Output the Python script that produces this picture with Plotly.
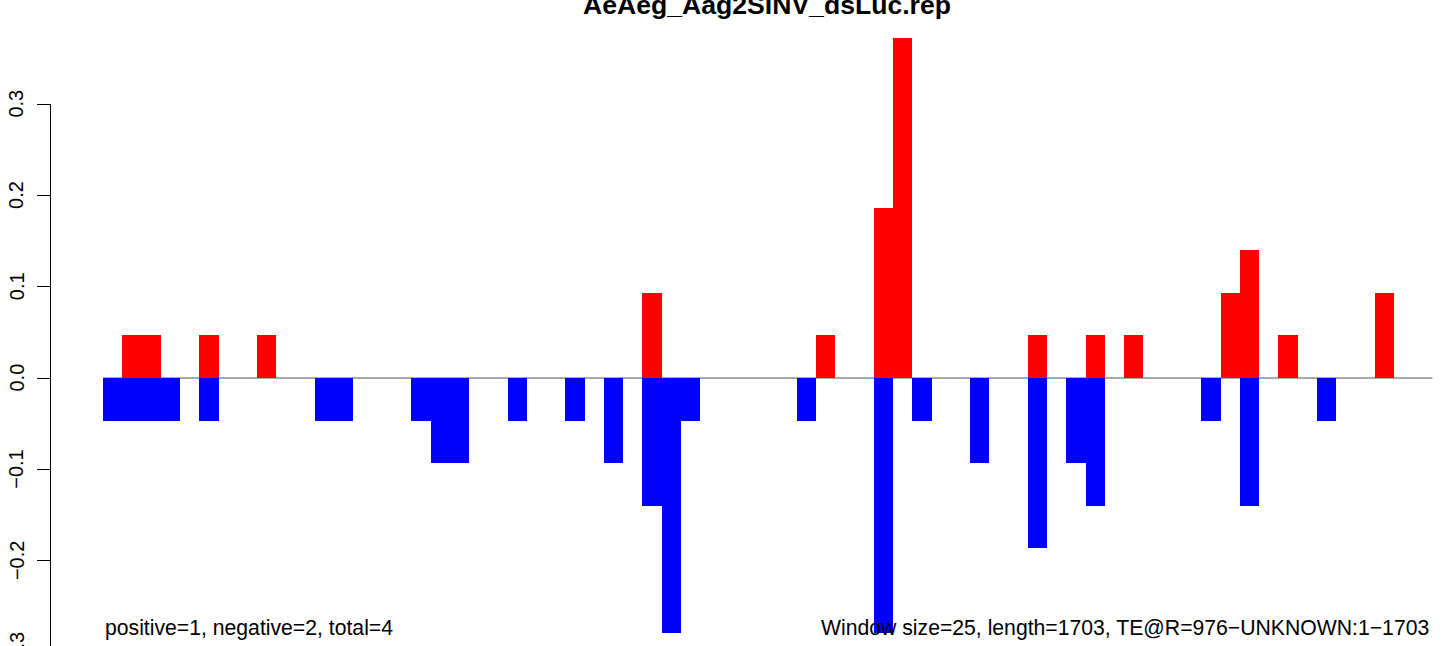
import plotly.graph_objects as go

# ---- data (window start positions in bp, values) ----
window_size = 25
seq_length = 1703

pos_starts = [25, 50, 125, 200, 700, 925, 1000, 1025, 1200, 1275, 1325, 1450, 1475, 1525, 1650]
pos_values = [0.0466, 0.0466, 0.0466, 0.0466, 0.0932, 0.0466, 0.1864, 0.3728, 0.0466, 0.0466,
              0.0466, 0.0932, 0.1398, 0.0466, 0.0932]

neg_starts = [0, 25, 50, 75, 125, 275, 300, 400, 425, 450, 525, 600, 650, 700, 725, 750,
              900, 1000, 1050, 1125, 1200, 1250, 1275, 1425, 1475, 1575]
neg_values = [-0.0466, -0.0466, -0.0466, -0.0466, -0.0466, -0.0466, -0.0466, -0.0466, -0.0932,
              -0.0932, -0.0466, -0.0466, -0.0932, -0.1398, -0.2796, -0.0466, -0.0466, -0.2796,
              -0.0466, -0.0932, -0.1864, -0.0932, -0.1398, -0.0466, -0.1398, -0.0466]

y_ticks = [-0.3, -0.2, -0.1, 0.0, 0.1, 0.2, 0.3]
y_tick_labels = ["\u22120.3", "\u22120.2", "\u22120.1", "0.0", "0.1", "0.2", "0.3"]

title_text = "AeAeg_Aag2SINV_dsLuc.rep"
left_note = "positive=1, negative=2, total=4"
right_note = "Window size=25, length=1703, TE@R=976\u2212UNKNOWN:1\u22121703"

W, H = 1444, 646
FONT = "Liberation Sans, Arial, Helvetica, sans-serif"

bp_per_px = 1 / 0.7707
x_min = -103 * bp_per_px
x_max = (W - 103) * bp_per_px
px_per_unit = 913.0
y_max = 378 / px_per_unit
y_min = -(H - 378) / px_per_unit

fig = go.Figure()
fig.add_trace(go.Bar(x=pos_starts, y=pos_values, width=window_size, offset=0,
                     marker=dict(color="#FF0000", line=dict(width=0)), showlegend=False))
fig.add_trace(go.Bar(x=neg_starts, y=neg_values, width=window_size, offset=0,
                     marker=dict(color="#0000FF", line=dict(width=0)), showlegend=False))

# zero line (behind bars)
fig.add_shape(type="line", xref="x", yref="y", x0=0, x1=1725, y0=0, y1=0,
              line=dict(color="#555555", width=1), layer="below")

axis_x_paper = 50.5 / W
# y axis line spanning first to last tick
fig.add_shape(type="line", xref="paper", yref="y", x0=axis_x_paper, x1=axis_x_paper,
              y0=min(y_ticks), y1=max(y_ticks), line=dict(color="black", width=1))

# tick labels (rotated like R); paper coords so the partly visible bottom one still shows
for v, lab in zip(y_ticks, y_tick_labels):
    fig.add_annotation(x=16.5 / W, xref="paper", y=(v - y_min) / (y_max - y_min), yref="paper",
                       text=lab, textangle=-90, showarrow=False, xanchor="center", yanchor="middle",
                       font=dict(family=FONT, size=20, color="black"))

fig.add_annotation(x=767 / W, xref="paper", y=1 - 5 / H, yref="paper", text="<b>" + title_text + "</b>",
                   showarrow=False, xanchor="center", yanchor="middle",
                   font=dict(family=FONT, size=26.6, color="black"))

fig.add_annotation(x=0, xref="x", y=-0.2733, yref="y", text=left_note, showarrow=False,
                   xanchor="left", yanchor="middle", font=dict(family=FONT, size=21.2, color="black"))
fig.add_annotation(x=1723, xref="x", y=-0.2733, yref="y", text=right_note, showarrow=False,
                   xanchor="right", yanchor="middle", font=dict(family=FONT, size=21.2, color="black"))

fig.update_layout(
    width=W, height=H,
    margin=dict(l=0, r=0, t=0, b=0, pad=0),
    paper_bgcolor="white", plot_bgcolor="white",
    barmode="overlay", bargap=0,
    font=dict(family=FONT, color="black"),
    xaxis=dict(range=[x_min, x_max], visible=False, showgrid=False, zeroline=False, fixedrange=True),
    yaxis=dict(range=[y_min, y_max], anchor="free", position=axis_x_paper, side="left",
               tickmode="array", tickvals=y_ticks, ticks="outside", ticklen=14, tickwidth=1,
               tickcolor="black", showticklabels=False, showgrid=False, zeroline=False,
               showline=False, automargin=False, fixedrange=True),
)

fig.write_html("out.html", config={"displayModeBar": False},
               post_script="document.body.style.margin='0';document.body.style.overflow='hidden';")
